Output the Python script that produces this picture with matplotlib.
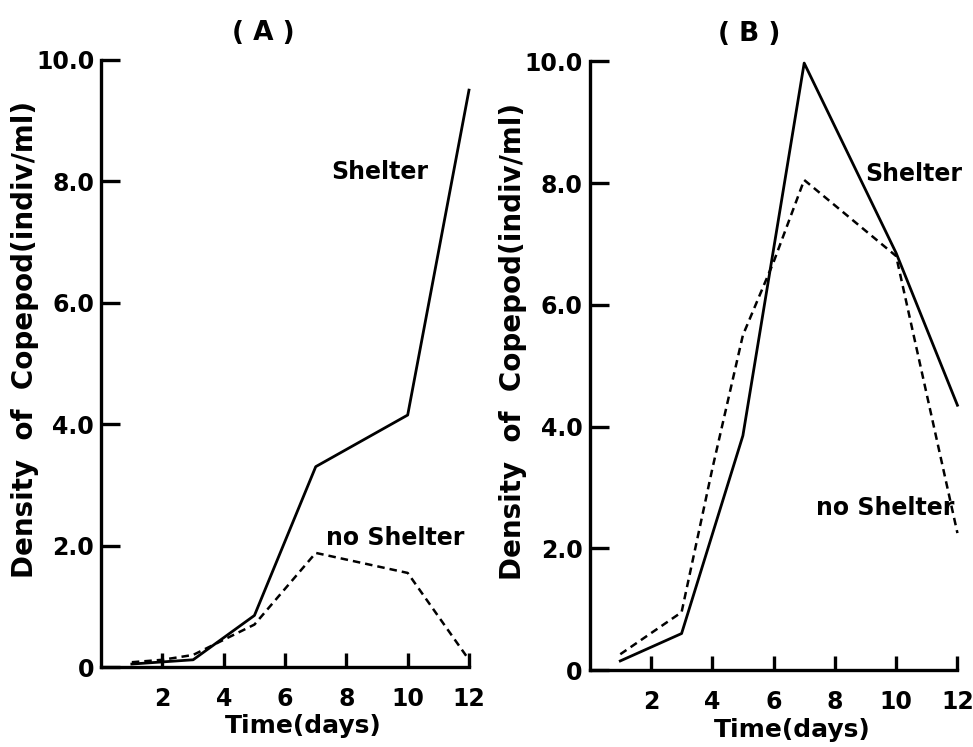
import matplotlib
matplotlib.use('Agg')
import matplotlib.pyplot as plt

# data
days_a = [1, 3, 5, 7, 10, 12]
shelter_a = [0.05, 0.12, 0.85, 3.3, 4.15, 9.5]
noshelter_a_days = [1, 2, 3, 5, 7, 10, 12]
noshelter_a = [0.08, 0.12, 0.2, 0.7, 1.88, 1.55, 0.12]

days_b = [1, 3, 5, 7, 10, 12]
shelter_b = [0.15, 0.6, 3.85, 9.97, 6.85, 4.35]
noshelter_b_days = [1, 3, 4, 5, 6, 7, 10, 12]
noshelter_b = [0.26, 0.95, 3.3, 5.5, 6.7, 8.05, 6.8, 2.25]

yticks = [0, 2, 4, 6, 8, 10]
ytick_labels = ['0', '2.0', '4.0', '6.0', '8.0', '10.0']
xticks = [2, 4, 6, 8, 10, 12]

plt.rcParams['font.family'] = 'DejaVu Sans'
plt.rcParams['font.weight'] = 'bold'

fig = plt.figure(figsize=(9.73, 7.47), dpi=100)
axA = fig.add_axes([0.104, 0.107, 0.378, 0.813])
axB = fig.add_axes([0.606, 0.103, 0.378, 0.815])

def style(ax):
    ax.set_xlim(0, 12)
    ax.set_ylim(0, 10)
    for s in ['top', 'right']:
        ax.spines[s].set_visible(False)
    for s in ['left', 'bottom']:
        ax.spines[s].set_linewidth(2.4)
    ax.set_yticks(yticks)
    ax.set_yticklabels(ytick_labels)
    ax.set_xticks(xticks)
    ax.tick_params(axis='y', direction='in', length=14, width=2.4, labelsize=17, pad=5)
    ax.tick_params(axis='x', direction='in', length=10, width=2.4, labelsize=17, pad=14)
    ax.set_ylabel('Density  of  Copepod(indiv/ml)', fontsize=20, fontweight='bold')
    ax.yaxis.set_label_coords(-0.17, 0.54)
    ax.set_xlabel('Time(days)', fontsize=18, fontweight='bold')
    ax.xaxis.set_label_coords(0.55, -0.078)

style(axA)
axA.plot(days_a, shelter_a, color='black', linewidth=2.0, linestyle='-', clip_on=False)
axA.plot(noshelter_a_days, noshelter_a, color='black', linewidth=1.8, linestyle=(0, (3, 2)), clip_on=False)
axA.text(7.5, 8.15, 'Shelter', fontsize=17, va='center', ha='left')
axA.text(7.35, 2.12, 'no Shelter', fontsize=17, va='center', ha='left')
axA.text(5.3, 10.44, '( A )', fontsize=19, ha='center', va='center', clip_on=False)

style(axB)
axB.plot(days_b, shelter_b, color='black', linewidth=2.0, linestyle='-', clip_on=False)
axB.plot(noshelter_b_days, noshelter_b, color='black', linewidth=1.8, linestyle=(0, (3, 2)), clip_on=False)
axB.text(9.0, 8.14, 'Shelter', fontsize=17, va='center', ha='left')
axB.text(7.4, 2.66, 'no Shelter', fontsize=17, va='center', ha='left')
axB.text(5.2, 10.44, '( B )', fontsize=19, ha='center', va='center', clip_on=False)

fig.savefig('out.png', dpi=100)
